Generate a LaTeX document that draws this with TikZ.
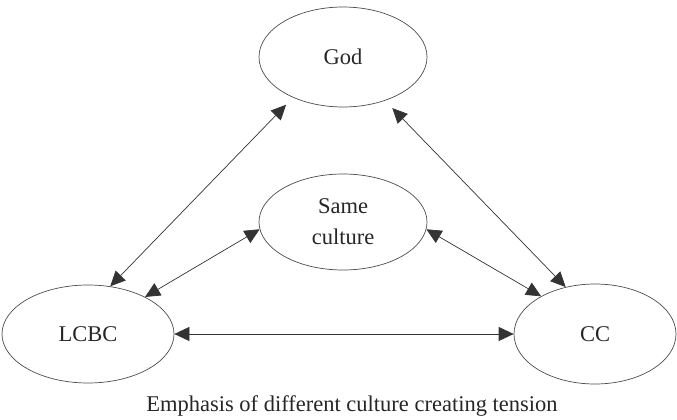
\documentclass[tikz,border=0pt]{standalone}
\usepackage{fontspec}
\setmainfont{Liberation Serif}
\usetikzlibrary{arrows.meta,shapes.geometric}
\begin{document}
\begin{tikzpicture}[x=1pt,y=-1pt,
  oval/.style={ellipse, draw=black!70, line width=0.7pt, inner sep=0pt,
    font=\fontsize{22.5}{31}\selectfont, align=center, text=black!85},
  link/.style={draw=black!80, line width=0.7pt,
    {Triangle[length=15pt,width=14pt]}-{Triangle[length=15pt,width=14pt]}}]
\useasboundingbox (0,0) rectangle (677,420);

% the four parties
\node[oval, minimum width=168pt, minimum height=100pt, outer sep=10pt] (god) at (343,57) {God};
\node[oval, minimum width=168pt, minimum height=96pt] (same) at (343,222) {Same\\culture};
\node[oval, minimum width=172pt, minimum height=98pt] (lcbc) at (88,334) {LCBC};
\node[oval, minimum width=162pt, minimum height=100pt] (cc) at (595,334) {CC};

% relations between them
\draw[link] (god.220) -- (lcbc.65);
\draw[link] (god.314) -- (cc.122);
\draw[link] (same.185) -- (lcbc.33);
\draw[link] (same.355) -- (cc.145);
\draw[link] (lcbc.east) -- (cc.west);

% caption
\node[font=\fontsize{22.5}{26}\selectfont, text=black!85] (caption) at (352,406) {Emphasis of different culture creating tension};
\end{tikzpicture}
\end{document}
